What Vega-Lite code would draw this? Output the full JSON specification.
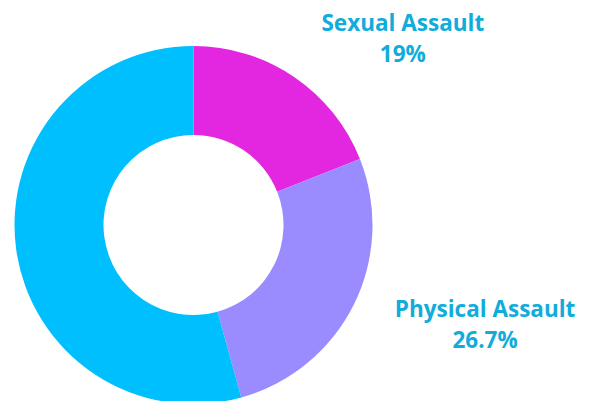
{
  "$schema": "https://vega.github.io/schema/vega-lite/v6.json",
  "width": 387,
  "height": 450,
  "autosize": "none",
  "padding": {"left": 0, "top": 0, "right": 204, "bottom": 0},
  "background": "white",
  "view": {"stroke": null},
  "config": {"text": {"lineBreak": "\n"}},
  "data": {
    "values": [
      {"category": "Sexual Assault", "value": 19, "label": "Sexual Assault\n19%", "order": 1},
      {"category": "Physical Assault", "value": 26.7, "label": "Physical Assault\n26.7%", "order": 2},
      {"category": "Other", "value": 54.3, "label": "", "order": 3}
    ]
  },
  "encoding": {
    "theta": {"field": "value", "type": "quantitative", "stack": true},
    "order": {"field": "order", "type": "quantitative"}
  },
  "layer": [
    {
      "mark": {"type": "arc", "outerRadius": 179, "innerRadius": 90},
      "encoding": {
        "color": {
          "field": "category",
          "type": "nominal",
          "scale": {"domain": ["Sexual Assault", "Physical Assault", "Other"], "range": ["#e327e1", "#9a8bff", "#00bfff"]},
          "legend": null
        }
      }
    },
    {
      "mark": {"type": "text", "radius": 271, "dx": 57, "dy": 23.5, "align": "center", "baseline": "middle", "lineHeight": 31, "font": "Open Sans", "fontWeight": "bold", "fontSize": 22.5, "color": "#10acdc"},
      "encoding": {
        "text": {"condition": {"test": "datum.category === 'Sexual Assault'", "field": "label"}, "value": ""}
      }
    },
    {
      "mark": {"type": "text", "radius": 305.6, "dx": 18, "dy": -51.5, "align": "center", "baseline": "middle", "lineHeight": 31, "font": "Open Sans", "fontWeight": "bold", "fontSize": 22.5, "color": "#10acdc"},
      "encoding": {
        "text": {"condition": {"test": "datum.category === 'Physical Assault'", "field": "label"}, "value": ""}
      }
    }
  ]
}
